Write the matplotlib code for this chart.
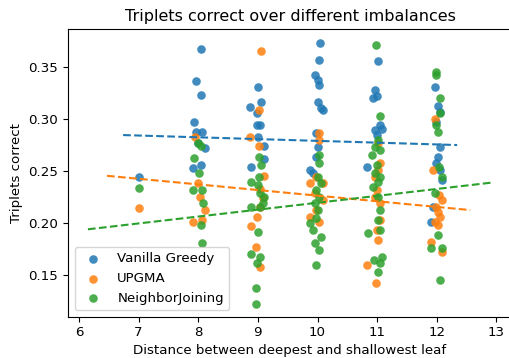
import matplotlib
matplotlib.use("Agg")
import matplotlib.pyplot as plt
import numpy as np

series_names = ["Vanilla Greedy", "UPGMA", "NeighborJoining"]
series_colors = ["#1f77b4", "#ff7f0e", "#2ca02c"]

# Vanilla Greedy (jittered x, y)
greedy_x = [7.00,
            8.04, 7.96, 8.04, 7.93, 7.97, 8.07, 8.00, 8.12, 8.04, 7.92,
            9.00, 9.06, 8.87, 8.98, 8.98, 9.03, 9.00, 9.11, 9.11, 8.89,
            10.04, 10.03, 9.95, 10.01, 10.03, 10.01, 10.06, 10.09, 9.97, 10.01, 9.98, 9.87, 9.92,
            11.01, 10.97, 10.93, 10.99, 11.04, 10.97, 11.08, 10.99, 10.83,
            11.97, 12.02, 12.05, 11.99, 12.05, 12.02, 11.99, 12.05, 12.08, 11.94, 11.91]
greedy_y = [0.2444,
            0.3667, 0.3363, 0.3225, 0.2972, 0.2873, 0.2873, 0.2767, 0.2716, 0.2556, 0.2524,
            0.3302, 0.3164, 0.3110, 0.3052, 0.2940, 0.2940, 0.2828, 0.2739, 0.2611, 0.2534,
            0.3730, 0.3564, 0.3420, 0.3372, 0.3324, 0.3164, 0.3100, 0.3080, 0.2860, 0.2732, 0.2636, 0.2508, 0.2480,
            0.3558, 0.3276, 0.3196, 0.3220, 0.2940, 0.2892, 0.2900, 0.2844, 0.2540,
            0.3302, 0.3123, 0.3068, 0.2972, 0.2732, 0.2636, 0.2578, 0.2508, 0.2412, 0.2156, 0.2012]

# UPGMA
upgma_x = [7.00,
           7.94, 8.00, 8.03, 8.11, 7.91, 8.07,
           9.06, 9.02, 8.87, 9.02, 9.11, 9.03, 9.08, 9.03, 8.98, 8.89, 8.97, 9.04,
           10.03, 10.02, 9.98, 9.87, 10.09, 9.95, 10.09, 9.98, 10.03, 9.87,
           11.01, 11.04, 11.02, 10.97, 10.99, 10.97, 11.05, 11.04, 10.99, 11.02, 10.83, 10.98,
           11.97, 11.94, 12.04, 12.08, 11.99, 12.02, 12.05, 11.97, 12.02, 11.91, 12.08]
upgma_y = [0.2147,
           0.2828, 0.2380, 0.2252, 0.2124, 0.2012, 0.2028,
           0.3654, 0.3084, 0.2822, 0.2739, 0.2450, 0.2322, 0.2236, 0.2156, 0.2060, 0.1970, 0.1772, 0.1580,
           0.2860, 0.2796, 0.2444, 0.2380, 0.2380, 0.2284, 0.2220, 0.2124, 0.2012, 0.2060,
           0.2764, 0.2572, 0.2508, 0.2444, 0.2316, 0.2252, 0.2188, 0.2028, 0.1932, 0.1836, 0.1596, 0.1426,
           0.2994, 0.2508, 0.2268, 0.2220, 0.2156, 0.2108, 0.2060, 0.2012, 0.1980, 0.1820, 0.1724]

# NeighborJoining
nj_x = [7.00,
        8.00, 8.04, 7.93, 8.02, 7.92, 8.06, 8.08, 8.04, 8.07,
        9.02, 9.06, 9.02, 8.89, 9.00, 9.03, 9.11, 9.08, 8.89, 9.03, 9.00, 8.89, 9.03, 8.98, 8.97, 8.97,
        10.03, 10.03, 10.01, 10.06, 9.98, 10.03, 9.95, 10.01, 9.98, 9.87, 9.92, 10.06, 9.95, 10.03, 9.98,
        10.98, 11.04, 11.02, 10.97, 10.91, 11.05, 10.99, 10.97, 11.05, 11.02, 10.93, 11.02, 11.05, 11.02,
        10.85, 11.04, 11.08, 10.95, 11.04, 11.02,
        11.98, 11.98, 12.06, 12.05, 11.98, 12.02, 12.04, 12.08, 11.97, 12.02, 11.91, 12.08, 12.05]
nj_y = [0.2332,
        0.2764, 0.2740, 0.2620, 0.2476, 0.2316, 0.2316, 0.2188, 0.1980, 0.1804,
        0.2636, 0.2556, 0.2444, 0.2396, 0.2364, 0.2284, 0.2252, 0.2188, 0.2156, 0.2156, 0.1916, 0.1701, 0.1676, 0.1612, 0.1372, 0.1222,
        0.2652, 0.2572, 0.2444, 0.2380, 0.2316, 0.2252, 0.2188, 0.2124, 0.2044, 0.1996, 0.1932, 0.1868, 0.1804, 0.1740, 0.1596,
        0.3708, 0.3027, 0.2796, 0.2732, 0.2652, 0.2700, 0.2556, 0.2476, 0.2444, 0.2396, 0.2348, 0.2252, 0.2124, 0.2028,
        0.1900, 0.1932, 0.1676, 0.1644, 0.1612, 0.1532,
        0.3452, 0.3420, 0.3196, 0.3052, 0.2940, 0.2876, 0.2540, 0.2444, 0.2284, 0.1884, 0.1756, 0.1756, 0.1452]

# Trend lines: slope, intercept, x extent
trend_slope = [-0.00171, -0.0054, 0.00662]
trend_intercept = [0.2959, 0.2802, 0.1532]
trend_x_start = [6.74, 6.47, 6.15]
trend_x_end = [12.34, 12.56, 12.93]

xs = [greedy_x, upgma_x, nj_x]
ys = [greedy_y, upgma_y, nj_y]

plt.rcParams['font.size'] = 9.6

fig = plt.figure(figsize=(5.10, 3.58), dpi=100)
ax = fig.add_axes([68 / 510, 1 - 316.7 / 358, 444 / 510, 287.7 / 358])

for i in range(3):
    ax.scatter(xs[i], ys[i], s=38, color=series_colors[i], alpha=0.85,
               linewidths=0, label=series_names[i], zorder=2)
for i in range(3):
    lx = np.array([trend_x_start[i], trend_x_end[i]])
    ax.plot(lx, trend_intercept[i] + trend_slope[i] * lx, '--',
            color=series_colors[i], lw=1.5, zorder=3)

ax.set_xlim(5.816, 13.26)
ax.set_ylim(0.110, 0.3862)
ax.set_xticks([6, 7, 8, 9, 10, 11, 12, 13])
ax.set_yticks([0.15, 0.20, 0.25, 0.30, 0.35])
ax.set_title("Triplets correct over different imbalances", fontsize=11.5, pad=5.5)
ax.set_xlabel("Distance between deepest and shallowest leaf", labelpad=3)
ax.set_ylabel("Triplets correct")
ax.legend(loc="lower left", fontsize=9.6)

fig.savefig("out.png", dpi=100)
